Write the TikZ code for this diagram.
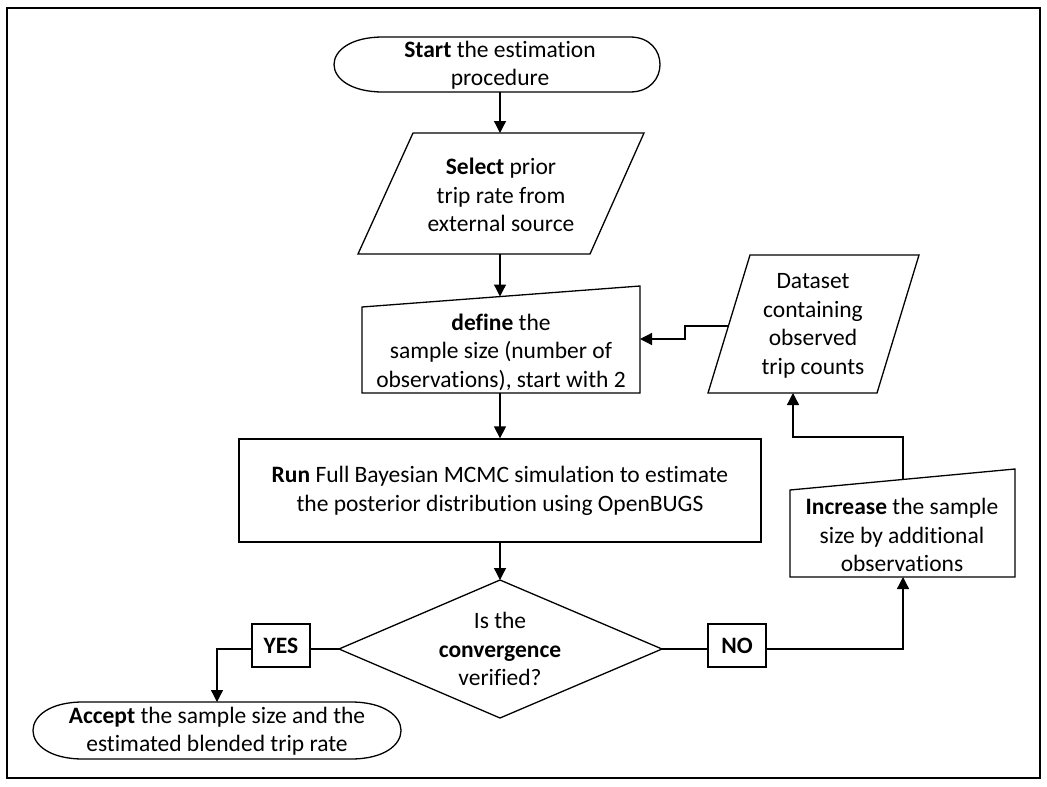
\documentclass[tikz,border=0pt]{standalone}
\usepackage{fontspec}
\setmainfont{Carlito}[Ligatures=NoCommon]
\usetikzlibrary{arrows.meta}
\begin{document}
\begin{tikzpicture}[x=1pt,y=-1pt,
  shp/.style={draw=black, line width=1.3pt, line join=miter},
  con/.style={draw=black, line width=1.3pt},
  arr/.style={con, -{Triangle[length=12pt,width=12pt]}},
  txt/.style={align=center, font=\fontsize{23.5}{28.5}\selectfont, inner sep=0pt},
  lbl/.style={draw=black, line width=1.3pt, font=\fontsize{23.5}{28.5}\selectfont\bfseries,
    minimum width=58pt, minimum height=43pt, inner sep=0pt}]
\useasboundingbox (0,0) rectangle (1047,787);
\draw[line width=1.1pt] (7,8) rectangle (1040,778);

% Start terminator
\draw[shp] (383,37) -- (630,37) .. controls (670,37) and (670,92) .. (630,92)
  -- (383,92) .. controls (317.7,92) and (317.7,37) .. (383,37) -- cycle;
\node[txt] (start) at (500,65) {\textbf{Start} the estimation\\procedure};
\coordinate (startB) at (500,92);

% Select parallelogram
\draw[shp] (413,133) -- (644,133) -- (590,254) -- (358,254) -- cycle;
\node[txt] (select) at (501,195) {\textbf{Select} prior\\trip rate from\\external source};
\coordinate (selectT) at (500,133);
\coordinate (selectB) at (500,254);

% Define (manual input)
\draw[shp] (362,307) -- (640,286) -- (640,393) -- (362,393) -- cycle;
\node[txt] (define) at (501,352) {\textbf{define} the\\sample size (number of\\observations), start with 2};
\coordinate (defineT) at (500,296.5);
\coordinate (defineB) at (500,393);
\coordinate (defineR) at (640,339);

% Run box
\node[shp, minimum width=522pt, minimum height=103pt, inner sep=0pt] (runbox) at (500,490.5) {};
\node[txt] (run) at (500,491) {\textbf{Run} Full Bayesian MCMC simulation to estimate\\the posterior distribution using OpenBUGS};

% Diamond
\draw[shp] (500,580) -- (662,649) -- (500,718) -- (339,649) -- cycle;
\node[txt] (conv) at (500,649) {Is the\\\textbf{convergence}\\verified?};
\coordinate (diaT) at (500,580);
\coordinate (diaL) at (339,649);
\coordinate (diaR) at (662,649);

% YES / NO
\node[lbl] (yes) at (281,645.5) {YES};
\node[lbl] (no) at (737,645.5) {NO};

% Accept terminator
\draw[shp] (83,702) -- (351,702) .. controls (417.7,702) and (417.7,759) .. (351,759)
  -- (83,759) .. controls (16.3,759) and (16.3,702) .. (83,702) -- cycle;
\node[txt] (accept) at (217,731) {\textbf{Accept} the sample size and the\\estimated blended trip rate};
\coordinate (acceptT) at (217,702);

% Increase (manual input)
\draw[shp] (790,490) -- (1015,469) -- (1015,577) -- (790,577) -- cycle;
\node[txt] (increase) at (902,535) {\textbf{Increase} the sample\\size by additional\\observations};
\coordinate (incT) at (903,479.5);
\coordinate (incB) at (903,577);

% Dataset parallelogram
\draw[shp] (750,255) -- (919,255) -- (877,393) -- (708,393) -- cycle;
\node[txt] (dataset) at (813,326) {Dataset\\containing\\observed\\trip counts};
\coordinate (dataL) at (728.4,326);
\coordinate (dataB) at (793,393);

% Connectors
\draw[arr] (startB) -- (selectT);
\draw[arr] (selectB) -- (defineT);
\draw[arr] (defineB) -- (runbox.north);
\draw[arr] (runbox.south) -- (diaT);
\draw[con] (diaL) -- (yes.east |- diaL);
\draw[arr] (yes.west |- diaL) -- (217,649) -- (acceptT);
\draw[con] (diaR) -- (no.west |- diaR);
\draw[arr] (no.east |- diaR) -- (903,649) -- (incB);
\draw[arr] (incT) -- (903,437) -- (793,437) -- (dataB);
\draw[arr] (dataL) -- (685,326) -- (685,339) -- (defineR);
\end{tikzpicture}
\end{document}
